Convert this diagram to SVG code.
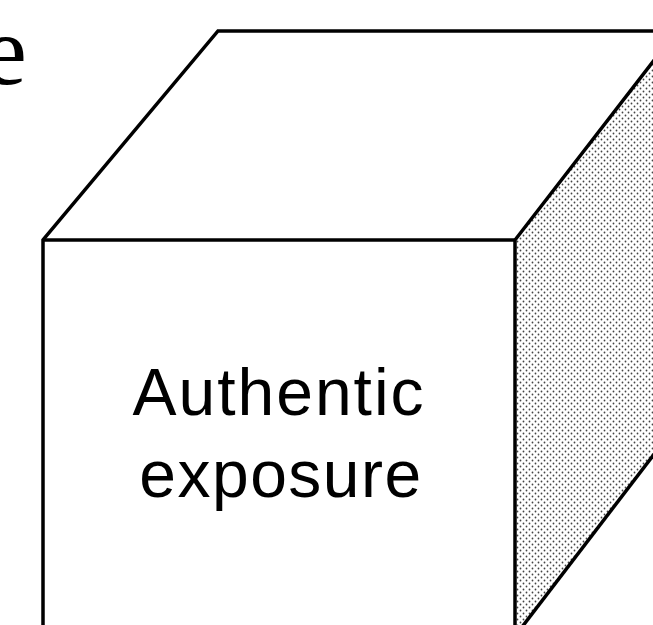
<svg xmlns="http://www.w3.org/2000/svg" width="653" height="625" viewBox="0 0 653 625">
<defs>
<pattern id="dots" width="6" height="6" patternUnits="userSpaceOnUse">
<rect width="6" height="6" fill="#fff"/>
<circle cx="1.5" cy="1.5" r="0.9" fill="#444"/>
<circle cx="4.5" cy="4.5" r="0.9" fill="#444"/>
</pattern>
</defs>
<style>
.edge{fill:none;stroke:#000;stroke-width:3.5;stroke-linejoin:miter;stroke-linecap:butt}
.lbl{font-family:"Liberation Sans",Arial,sans-serif;font-size:66px;fill:#000;text-anchor:middle}
</style>
<text x="27" y="84" font-family="Liberation Serif,Times New Roman,serif" font-size="100" text-anchor="end" fill="#000">e</text>
<g id="cube">
<polygon points="515,240 653,62 653,455 523,625 515,625" fill="url(#dots)"/>
<polyline class="edge" points="43,627 43,240 218,31 655,31"/>
<line class="edge" x1="43" y1="240" x2="515" y2="240"/>
<polyline class="edge" points="515,627 515,240 655,59"/>
<line class="edge" x1="655" y1="453" x2="522" y2="627"/>
</g>
<g id="label">
<text class="lbl" x="279" y="415" letter-spacing="2">Authentic</text>
<text class="lbl" x="281" y="497" letter-spacing="1.5">exposure</text>
</g>
</svg>
